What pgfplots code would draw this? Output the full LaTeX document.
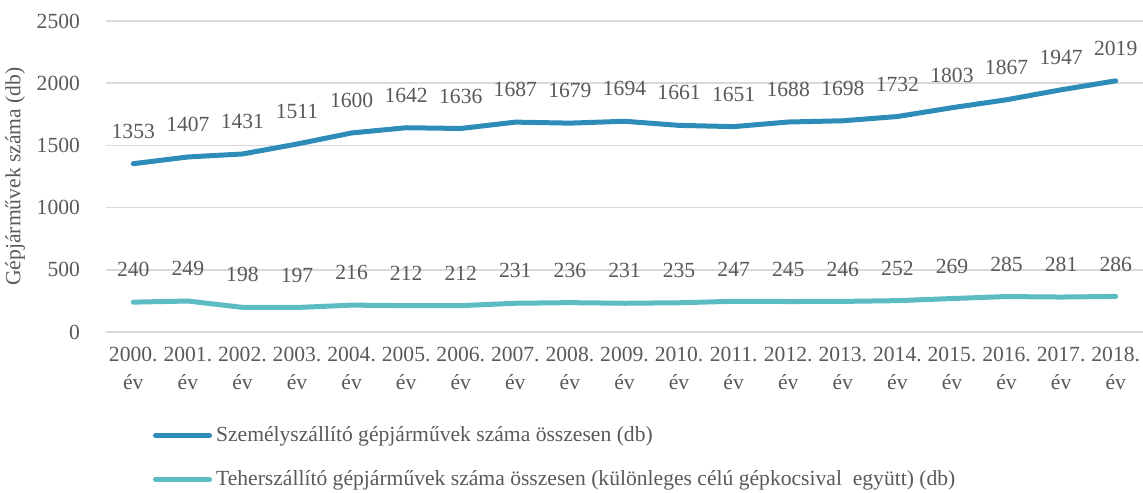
\documentclass[border=0pt]{standalone}
\usepackage{fontspec}
\setmainfont{Liberation Serif}
\usepackage{pgfplots}
\pgfplotsset{compat=1.18}
\definecolor{szem}{HTML}{2E8CB8}
\definecolor{teher}{HTML}{5BBCC4}
\definecolor{txt}{HTML}{595959}
\definecolor{grd}{HTML}{D9D9D9}

\pgfplotstableread{
x s t
0 1353 240
1 1407 249
2 1431 198
3 1511 197
4 1600 216
5 1642 212
6 1636 212
7 1687 231
8 1679 236
9 1694 231
10 1661 235
11 1651 247
12 1688 245
13 1698 246
14 1732 252
15 1803 269
16 1867 285
17 1947 281
18 2019 286
}\adat

\begin{document}
\begin{tikzpicture}
\useasboundingbox (-53pt,-80pt) rectangle (518.5pt,166pt);
\begin{axis}[
  scale only axis,
  width=518.5pt, height=155.5pt,
  xmin=-0.5, xmax=18.5,
  ymin=0, ymax=2500,
  ytick={0,500,...,2500},
  xtick={0,...,18},
  xticklabels={2000.\\év,2001.\\év,2002.\\év,2003.\\év,2004.\\év,2005.\\év,2006.\\év,2007.\\év,2008.\\év,2009.\\év,2010.\\év,2011.\\év,2012.\\év,2013.\\év,2014.\\év,2015.\\év,2016.\\év,2017.\\év,2018.\\év},
  xticklabel style={align=center, font=\fontsize{10.8}{14}\selectfont, text=txt, yshift=-4pt},
  yticklabel style={font=\fontsize{10.8}{12}\selectfont, text=txt, xshift=-9.5pt},
  /pgf/number format/assume math mode=true,
  /pgf/number format/1000 sep={},
  axis line style={draw=none},
  major tick length=0pt,
  ymajorgrids, grid style={grd, line width=0.8pt},
  ylabel={Gépjárművek száma (db)},
  ylabel style={font=\fontsize{10.8}{12}\selectfont, text=txt, yshift=-1pt},
  nodes near coords,
  every node near coord/.style={font=\fontsize{10.8}{12}\selectfont, text=txt, anchor=south, yshift=8pt},
  legend style={at={(0.045,-0.29)}, anchor=north west, draw=none, fill=none,
    font=\fontsize{10.8}{12}\selectfont, text=txt, row sep=9pt,
    legend cell align=left, inner sep=0pt},
  legend image code/.code={\draw[#1, line cap=round] (0pt,0pt) -- (27pt,0pt);},
]
\addplot[szem, line width=2.5pt, line cap=round, line join=round, mark=none] table[x=x, y=s] {\adat};
\addlegendentry{Személyszállító gépjárművek száma összesen (db)}
\addplot[teher, line width=2.5pt, line cap=round, line join=round, mark=none] table[x=x, y=t] {\adat};
\addlegendentry{Teherszállító gépjárművek száma összesen (különleges célú gépkocsival\ \ együtt) (db)}
\end{axis}
\end{tikzpicture}
\end{document}
